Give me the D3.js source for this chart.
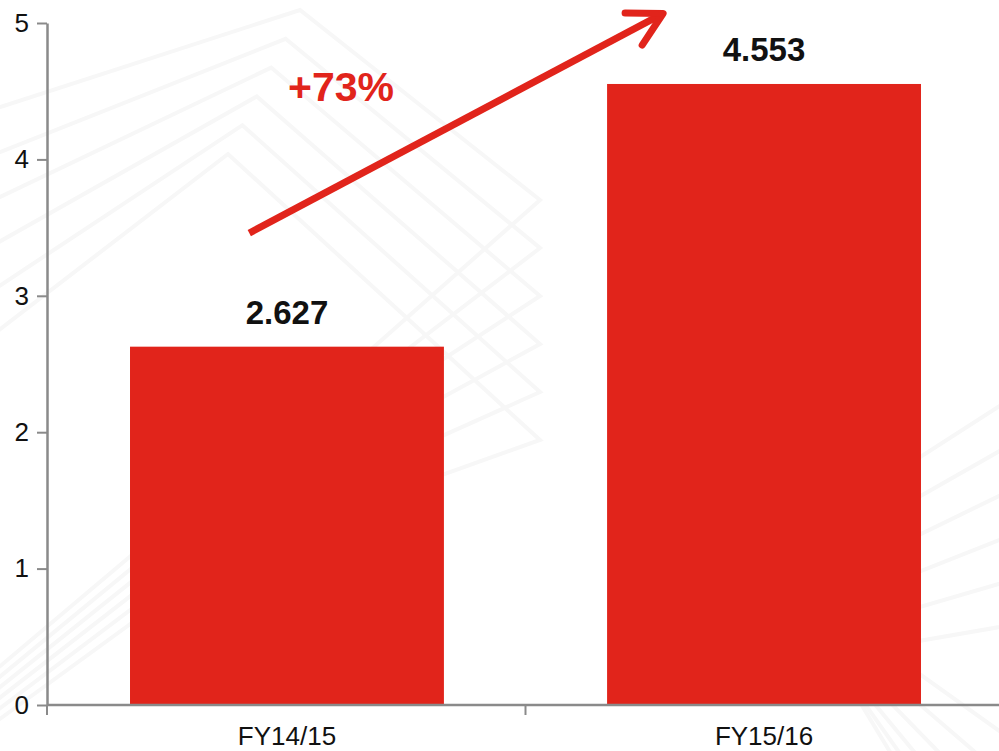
<!DOCTYPE html>
<html>
<head>
<meta charset="utf-8">
<script src="https://cdn.jsdelivr.net/npm/d3@7"></script>
<style>
  html, body { margin: 0; padding: 0; background: #fff; overflow: hidden; }
  svg { display: block; font-family: Arial, "Liberation Sans", sans-serif; }
</style>
</head>
<body>
<div id="chart"></div>
<script>
// chart data
const categories = ['FY14/15', 'FY15/16'];
const values = [2.627, 4.553];
const valueLabels = ['2.627', '4.553'];
const yTicks = [0, 1, 2, 3, 4, 5];
const growthLabel = '+73%';

const width = 999, height = 751;
const red = '#e1241b';
const axisGray = '#8a8a8a';

const svg = d3.select('#chart').append('svg')
  .attr('width', width)
  .attr('height', height);

// very faint zigzag background
const bg = svg.append('g').attr('fill', 'none').attr('stroke', '#f7f7f7').attr('stroke-width', 4);
const zig = d3.line();
for (let k = 0; k < 6; k++) {
  const off = k * 48;
  bg.append('path').attr('d', zig([[-40, 120 + off], [300 - off * 0.3, 10 + off * 0.6], [540, 200 + off], [280 - off * 0.2, 430 + off * 0.5], [-40, 700 + off * 0.2]]));
  bg.append('path').attr('d', zig([[1040, 380 + off], [760 + off * 0.3, 560 + off * 0.4], [1040, 760 + off]]));
}

const y = d3.scaleLinear().domain([0, 5]).range([705, 23]);
const x = d3.scaleBand().domain(categories).range([47, 1004])
  .paddingInner(0.342).paddingOuter(0.174);

// bars
svg.append('g').selectAll('rect')
  .data(values)
  .join('rect')
  .attr('x', (d, i) => x(categories[i]))
  .attr('y', d => y(d))
  .attr('width', x.bandwidth())
  .attr('height', d => y(0) - y(d))
  .attr('fill', red);

// value labels
svg.append('g').selectAll('text')
  .data(values)
  .join('text')
  .attr('x', (d, i) => x(categories[i]) + x.bandwidth() / 2)
  .attr('y', d => y(d) - 23)
  .attr('text-anchor', 'middle')
  .attr('font-size', 33)
  .attr('font-weight', 'bold')
  .attr('fill', '#111')
  .text((d, i) => valueLabels[i]);

// y axis
const yAxis = svg.append('g')
  .attr('transform', 'translate(47,0)')
  .call(d3.axisLeft(y).tickValues(yTicks).tickSize(10).tickSizeOuter(0).tickPadding(8).tickFormat(d3.format('d')));
yAxis.select('.domain').attr('stroke', axisGray).attr('stroke-width', 2.5);
yAxis.selectAll('.tick line').attr('stroke', axisGray).attr('stroke-width', 2);
yAxis.selectAll('.tick text').attr('font-size', 26).attr('fill', '#111')
  .attr('font-family', 'Arial, "Liberation Sans", sans-serif');

// x axis with ticks at band boundaries
const step = x.step();
const boundaries = [x(categories[0]) - step * x.paddingInner() / 2,
  x(categories[1]) - step * x.paddingInner() / 2];
const xAxisG = svg.append('g').attr('transform', `translate(0,${y(0)})`);
xAxisG.append('line')
  .attr('x1', 47).attr('x2', width)
  .attr('stroke', axisGray).attr('stroke-width', 2.5);
xAxisG.selectAll('line.tk')
  .data([47, boundaries[1]])
  .join('line')
  .attr('class', 'tk')
  .attr('x1', d => d).attr('x2', d => d)
  .attr('y1', 0).attr('y2', 10)
  .attr('stroke', axisGray).attr('stroke-width', 2);
xAxisG.selectAll('text')
  .data(categories)
  .join('text')
  .attr('x', d => x(d) + x.bandwidth() / 2)
  .attr('y', 40)
  .attr('text-anchor', 'middle')
  .attr('font-size', 26)
  .attr('fill', '#111')
  .text(d => d);

// growth arrow
const arrowStart = [x(categories[0]) + x.bandwidth() * 0.38, y(3.46)];
const arrowEnd = [x(categories[1]) + 56, y(5.07)];
const ang = Math.atan2(arrowEnd[1] - arrowStart[1], arrowEnd[0] - arrowStart[0]);
const headLen = 38, headAng = 0.5;
const arrow = svg.append('g')
  .attr('stroke', red).attr('stroke-width', 7).attr('fill', 'none')
  .attr('stroke-linecap', 'round').attr('stroke-linejoin', 'round');
arrow.append('path')
  .attr('stroke-linecap', 'butt')
  .attr('d', d3.line()([arrowStart, [arrowEnd[0] - 4 * Math.cos(ang), arrowEnd[1] - 4 * Math.sin(ang)]]));
arrow.append('path')
  .attr('d', d3.line()([
    [arrowEnd[0] - headLen * Math.cos(ang - headAng), arrowEnd[1] - headLen * Math.sin(ang - headAng)],
    arrowEnd,
    [arrowEnd[0] - headLen * Math.cos(ang + headAng), arrowEnd[1] - headLen * Math.sin(ang + headAng)]
  ]));

svg.append('text')
  .attr('x', 341)
  .attr('y', 101)
  .attr('text-anchor', 'middle')
  .attr('font-size', 41)
  .attr('font-weight', 'bold')
  .attr('fill', red)
  .text(growthLabel);
</script>
</body>
</html>
